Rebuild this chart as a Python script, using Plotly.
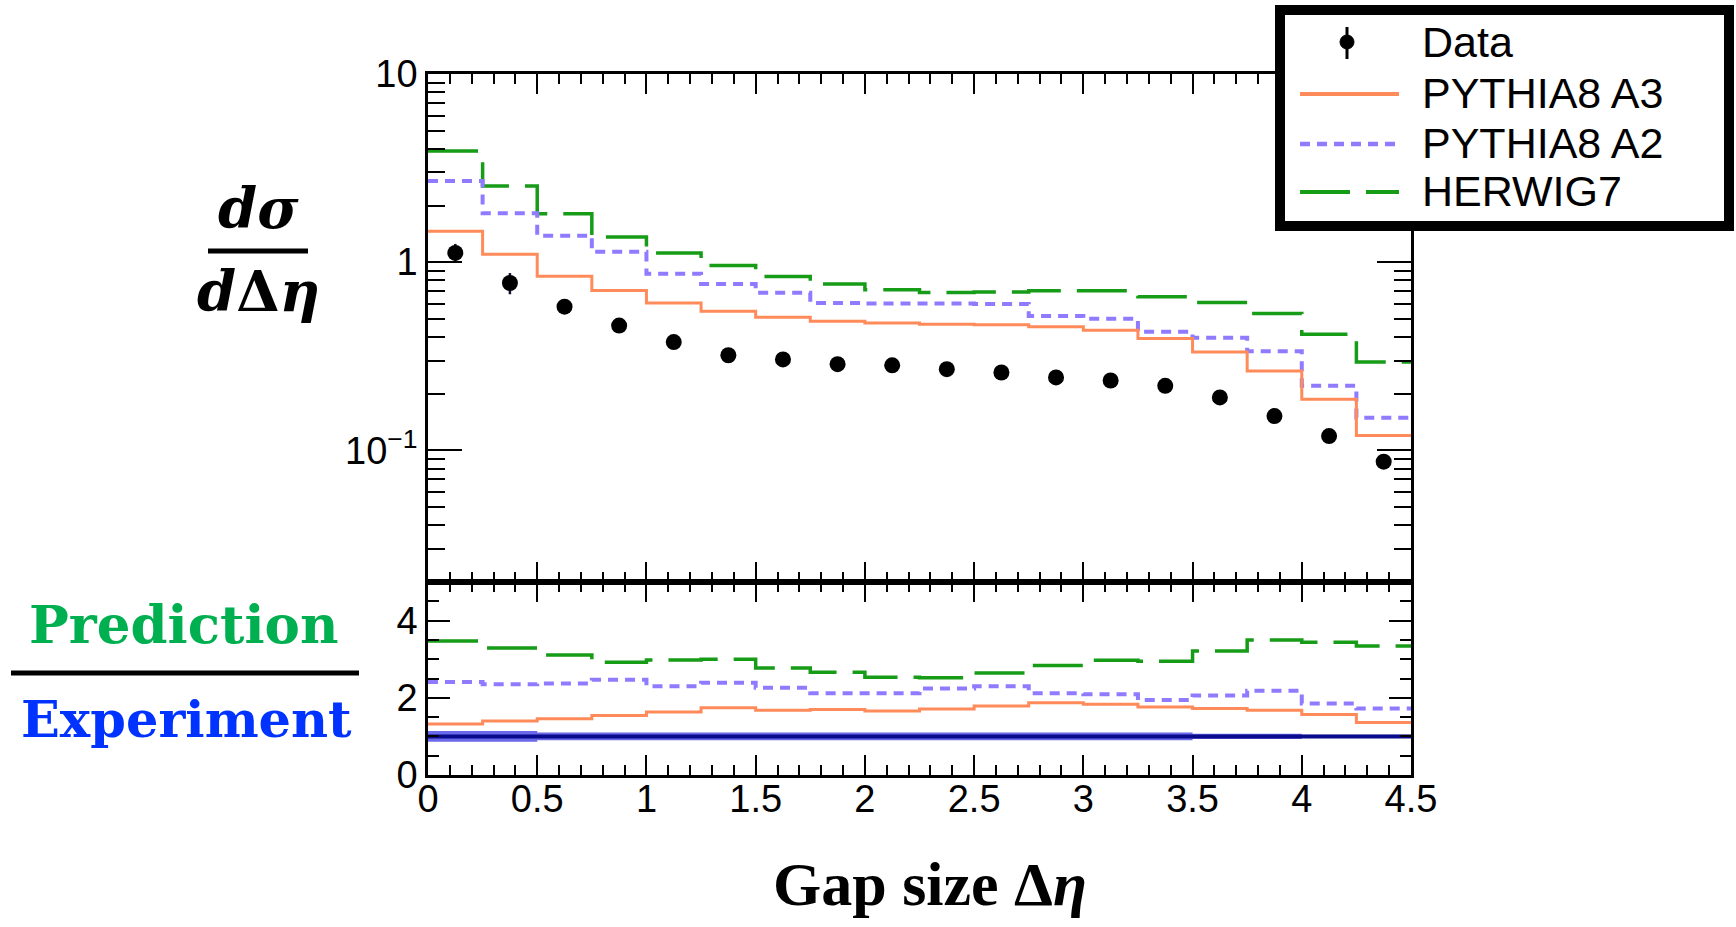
import plotly.graph_objects as go

# ---------------- data ----------------
bin_edges = [0.0, 0.25, 0.5, 0.75, 1.0, 1.25, 1.5, 1.75, 2.0, 2.25, 2.5,
             2.75, 3.0, 3.25, 3.5, 3.75, 4.0, 4.25, 4.5]
bin_centers = [0.125, 0.375, 0.625, 0.875, 1.125, 1.375, 1.625, 1.875, 2.125,
               2.375, 2.625, 2.875, 3.125, 3.375, 3.625, 3.875, 4.125, 4.375]

data_vals = [1.12, 0.775, 0.58, 0.46, 0.376, 0.32, 0.304, 0.287, 0.283,
             0.27, 0.259, 0.244, 0.235, 0.220, 0.191, 0.152, 0.119, 0.087]
data_errs = [0.13, 0.10, 0.03, 0.02, 0.015, 0.012, 0.012, 0.011, 0.011,
             0.011, 0.010, 0.010, 0.010, 0.009, 0.008, 0.007, 0.006, 0.005]

pythia_a3 = [1.46, 1.10, 0.842, 0.706, 0.607, 0.548, 0.509, 0.485, 0.475,
             0.468, 0.465, 0.453, 0.435, 0.393, 0.333, 0.264, 0.187, 0.120]
pythia_a2 = [2.70, 1.82, 1.38, 1.135, 0.867, 0.766, 0.687, 0.607, 0.603,
             0.603, 0.600, 0.518, 0.500, 0.426, 0.396, 0.336, 0.220, 0.149]
herwig7 = [3.90, 2.54, 1.81, 1.36, 1.12, 0.96, 0.839, 0.766, 0.714,
           0.690, 0.695, 0.704, 0.704, 0.654, 0.610, 0.533, 0.414, 0.295]

ratio_a3 = [1.32, 1.40, 1.46, 1.54, 1.63, 1.74, 1.68, 1.70, 1.66,
            1.71, 1.79, 1.87, 1.83, 1.76, 1.72, 1.68, 1.57, 1.36]
ratio_a2 = [2.41, 2.35, 2.37, 2.47, 2.30, 2.39, 2.26, 2.12, 2.12,
            2.24, 2.30, 2.12, 2.09, 1.94, 2.06, 2.18, 1.85, 1.72]
ratio_h7 = [3.47, 3.29, 3.11, 2.92, 2.98, 3.00, 2.77, 2.66, 2.53,
            2.52, 2.64, 2.84, 2.97, 2.95, 3.21, 3.50, 3.44, 3.34]
ratio_unc = [0.14, 0.14, 0.10, 0.10, 0.10, 0.10, 0.10, 0.10, 0.10,
             0.10, 0.10, 0.10, 0.10, 0.10, 0.07, 0.07, 0.04, 0.04]

legend_labels = ["Data", "PYTHIA8 A3", "PYTHIA8 A2", "HERWIG7"]

# ---------------- styles ----------------
W, H = 1736, 927
C_A3 = "#FF8A5A"
C_A2 = "#8E7BFF"
C_H7 = "#169C16"
DASH_A2 = "10px,7px"
DASH_H7 = "50px,16px"
TICKFONT = dict(family="Liberation Sans, Arial, sans-serif", size=38, color="black")


def step(vals):
    return list(vals) + [vals[-1]]


def px(x):
    return x / W


def py(y):
    return 1 - y / H


fig = go.Figure()

# upper panel histograms
for vals, col, dash, wid in [(herwig7, C_H7, DASH_H7, 3.5),
                             (pythia_a2, C_A2, DASH_A2, 4),
                             (pythia_a3, C_A3, "solid", 3)]:
    fig.add_trace(go.Scatter(x=bin_edges, y=step(vals), mode="lines",
                             line=dict(shape="hv", color=col, width=wid, dash=dash),
                             xaxis="x", yaxis="y", showlegend=False, hoverinfo="skip"))

fig.add_trace(go.Scatter(x=bin_centers, y=data_vals, mode="markers",
                         marker=dict(color="black", size=16),
                         error_y=dict(type="data", array=data_errs, color="#111133",
                                      thickness=2.5, width=0),
                         xaxis="x", yaxis="y", showlegend=False))

# lower panel: uncertainty band + unity line
lo = [1 - u for u in ratio_unc]
hi = [1 + u for u in ratio_unc]
ones = [1.0 for _ in ratio_unc]
fig.add_trace(go.Scatter(x=bin_edges, y=step(lo), mode="lines",
                         line=dict(shape="hv", width=0, color="rgba(0,0,0,0)"),
                         xaxis="x2", yaxis="y2", showlegend=False, hoverinfo="skip"))
fig.add_trace(go.Scatter(x=bin_edges, y=step(hi), mode="lines", fill="tonexty",
                         fillcolor="rgba(55,55,225,0.75)",
                         line=dict(shape="hv", width=0, color="rgba(0,0,0,0)"),
                         xaxis="x2", yaxis="y2", showlegend=False, hoverinfo="skip"))
fig.add_trace(go.Scatter(x=bin_edges, y=step(ones), mode="lines",
                         line=dict(shape="hv", color="#0A0A8C", width=4),
                         xaxis="x2", yaxis="y2", showlegend=False, hoverinfo="skip"))

for vals, col, dash, wid in [(ratio_h7, C_H7, DASH_H7, 3.5),
                             (ratio_a2, C_A2, DASH_A2, 4),
                             (ratio_a3, C_A3, "solid", 3)]:
    fig.add_trace(go.Scatter(x=bin_edges, y=step(vals), mode="lines",
                             line=dict(shape="hv", color=col, width=wid, dash=dash),
                             xaxis="x2", yaxis="y2", showlegend=False, hoverinfo="skip"))

# ---------------- axes ----------------
xdom = [px(428), px(1411)]
common_x = dict(range=[0, 4.5], domain=xdom, showline=True, linecolor="black",
                linewidth=2.5, mirror="allticks", ticks="inside", ticklen=20,
                tickwidth=2, tickcolor="black", dtick=0.5, tick0=0, showgrid=False,
                zeroline=False, automargin=False,
                minor=dict(dtick=0.1, ticks="inside", ticklen=10, tickwidth=2,
                           tickcolor="black", showgrid=False))

minor_log = []
for dec in [0.01, 0.1, 1.0]:
    for k in range(2, 10):
        v = k * dec
        if 0.02 <= v <= 10:
            minor_log.append(round(v, 4))

fig.update_layout(
    width=W, height=H, autosize=False,
    margin=dict(l=0, r=0, t=0, b=0, pad=0, autoexpand=False),
    paper_bgcolor="white", plot_bgcolor="white",
    showlegend=False,
    xaxis=dict(common_x, anchor="y", showticklabels=False, matches="x2"),
    yaxis=dict(type="log", range=[-1.70, 1.0], domain=[py(582), py(74)],
               anchor="x", showline=True, linecolor="black", linewidth=2.5,
               mirror="allticks", ticks="inside", ticklen=34, tickwidth=2,
               tickcolor="black", tickvals=[0.1, 1, 10],
               ticktext=["10<sup>\u22121</sup>", "1", "10"], tickfont=TICKFONT,
               showgrid=False, zeroline=False, automargin=False,
               minor=dict(tickvals=minor_log, ticks="inside", ticklen=17,
                          tickwidth=2, tickcolor="black", showgrid=False)),
    xaxis2=dict(common_x, anchor="y2", tickfont=TICKFONT, ticklabelstandoff=-11),
    yaxis2=dict(range=[0, 5], domain=[py(775), py(582)], anchor="x2",
                showline=True, linecolor="black", linewidth=2.5,
                mirror="allticks", ticks="inside", ticklen=22, tickwidth=2,
                tickcolor="black", tickvals=[0, 2, 4], tickfont=TICKFONT,
                showgrid=False, zeroline=False, automargin=False,
                minor=dict(tickvals=[0.5, 1, 1.5, 2.5, 3, 3.5, 4.5], ticks="inside",
                           ticklen=11, tickwidth=2, tickcolor="black", showgrid=False)),
)

# ---------------- manual ROOT-style legend ----------------
shapes = []
annotations = []
shapes.append(dict(type="rect", xref="paper", yref="paper",
                   x0=px(1280), x1=px(1729), y0=py(226), y1=py(10),
                   line=dict(color="black", width=10), fillcolor="white",
                   layer="above"))
leg_y = [42, 93, 143, 191]
leg_styles = [None, (C_A3, "solid", 4), (C_A2, DASH_A2, 4.5), (C_H7, DASH_H7, 4)]
for lab, yy, sty in zip(legend_labels, leg_y, leg_styles):
    annotations.append(dict(text=lab, xref="paper", yref="paper", x=px(1420),
                            y=py(yy), xanchor="left", yanchor="middle",
                            showarrow=False,
                            font=dict(family="Liberation Sans, Arial, sans-serif",
                                      size=43, color="black")))
    if sty is None:
        shapes.append(dict(type="line", xref="paper", yref="paper",
                           x0=px(1347), x1=px(1347), y0=py(yy + 17), y1=py(yy - 15),
                           line=dict(color="black", width=3), layer="above"))
        shapes.append(dict(type="circle", xref="paper", yref="paper",
                           x0=px(1340), x1=px(1354), y0=py(yy + 7), y1=py(yy - 7),
                           line=dict(color="black", width=1), fillcolor="black",
                           layer="above"))
    else:
        col, dash, wid = sty
        shapes.append(dict(type="line", xref="paper", yref="paper",
                           x0=px(1300), x1=px(1399), y0=py(yy + 1), y1=py(yy + 1),
                           line=dict(color=col, width=wid, dash=dash), layer="above"))

# ---------------- side labels ----------------
serif = "DejaVu Serif, serif"
annotations.append(dict(text="<b><i>d\u03c3</i></b>", xref="paper", yref="paper",
                        x=px(258), y=py(208), xanchor="center", yanchor="middle",
                        showarrow=False, font=dict(family=serif, size=56, color="black")))
annotations.append(dict(text="<b><i>d</i>\u0394<i>\u03b7</i></b>", xref="paper", yref="paper",
                        x=px(258), y=py(291), xanchor="center", yanchor="middle",
                        showarrow=False, font=dict(family=serif, size=56, color="black")))
shapes.append(dict(type="line", xref="paper", yref="paper", x0=px(208), x1=px(308),
                   y0=py(251), y1=py(251), line=dict(color="black", width=5)))

annotations.append(dict(text="<b>Prediction</b>", xref="paper", yref="paper",
                        x=px(183), y=py(624), xanchor="center", yanchor="middle",
                        showarrow=False, font=dict(family=serif, size=53, color="#00B050")))
shapes.append(dict(type="line", xref="paper", yref="paper", x0=px(11), x1=px(359),
                   y0=py(673), y1=py(673), line=dict(color="black", width=5)))
annotations.append(dict(text="<b>Experiment</b>", xref="paper", yref="paper",
                        x=px(186), y=py(719), xanchor="center", yanchor="middle",
                        showarrow=False, font=dict(family=serif, size=51, color="#0033FF")))

annotations.append(dict(text="<b>Gap size \u0394<i>\u03b7</i></b>", xref="paper", yref="paper",
                        x=px(930), y=py(884), xanchor="center", yanchor="middle",
                        showarrow=False,
                        font=dict(family="Liberation Serif, Times New Roman, serif",
                                  size=62, color="black")))

fig.update_layout(shapes=shapes, annotations=annotations)

fig.write_html("out.html", post_script="document.body.style.margin='0px';")
